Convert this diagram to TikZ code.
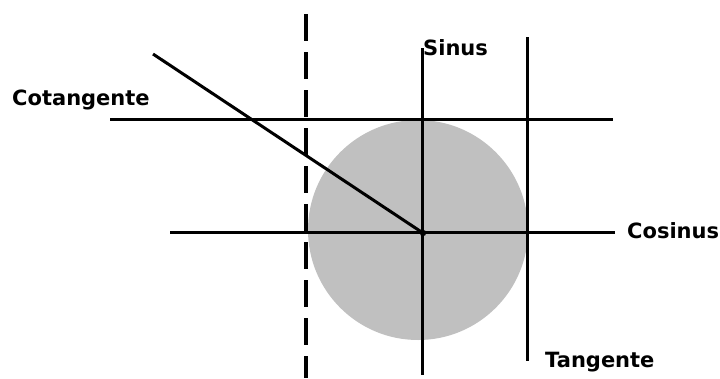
\documentclass[tikz,border=0pt]{standalone}
\usepackage{fontspec}
\setmainfont{DejaVu Sans}
\definecolor{discgray}{RGB}{192,192,192}
\begin{document}
\begin{tikzpicture}[x=1pt,y=-1pt,
  axisline/.style={line width=3pt,black},
  dashline/.style={line width=4.5pt,black,dash pattern=on 27pt off 11pt},
  lbl/.style={inner sep=0pt,anchor=base west,font=\fontsize{21}{24}\selectfont\bfseries}]
\useasboundingbox (0,0) rectangle (720,378);
% disc
\fill[discgray] (418,230) circle[radius=110];
% coordinates
\coordinate (topL) at (110,119);
\coordinate (topR) at (613,119);
\coordinate (midL) at (170,232);
\coordinate (midR) at (615,232);
\coordinate (sinT) at (422,48);
\coordinate (sinB) at (422,375);
\coordinate (tanT) at (527,37);
\coordinate (tanB) at (527,361);
\coordinate (dashT) at (306,14);
\coordinate (dashB) at (306,378);
\coordinate (diagS) at (153,54);
\coordinate (O) at (423,233);
% lines
\draw[axisline] (topL) -- (topR);
\draw[axisline] (midL) -- (midR);
\draw[axisline] (sinT) -- (sinB);
\draw[axisline] (tanT) -- (tanB);
\draw[dashline] (dashT) -- (dashB);
\draw[axisline] (diagS) -- (O);
\fill (O) circle[radius=3.2];
% labels
\node[lbl] (cot) at (12,105) {Cotangente};
\node[lbl] (sin) at (423,55) {Sinus};
\node[lbl] (cos) at (627,238) {Cosinus};
\node[lbl] (tan) at (545,367) {Tangente};
\end{tikzpicture}
\end{document}
